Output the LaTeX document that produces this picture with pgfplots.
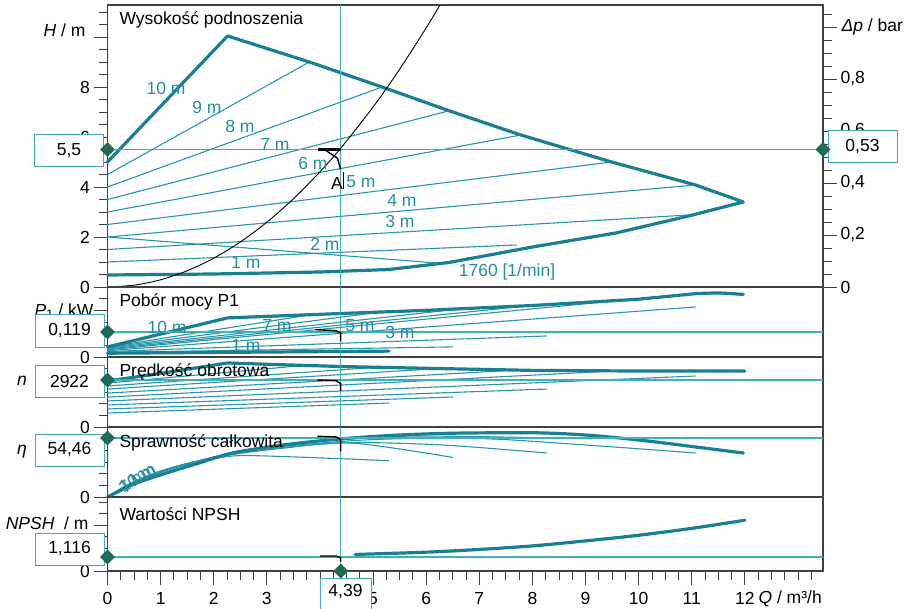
\documentclass[border=0pt]{standalone}
\usepackage{pgfplots}
\pgfplotsset{compat=1.18}
\usepackage{fontspec}
\setmainfont{Liberation Sans}
\definecolor{tkT}{RGB}{24,128,146}
\definecolor{tnT}{RGB}{38,150,168}
\definecolor{txT}{RGB}{36,142,158}
\definecolor{opc}{RGB}{64,176,186}
\definecolor{boxc}{RGB}{72,170,180}
\definecolor{dgr}{RGB}{30,108,84}
\definecolor{frc}{RGB}{65,65,65}
\newcommand{\fs}{\fontsize{17.5}{20}\selectfont}
\begin{document}
\begin{tikzpicture}[x=1pt,y=1pt]
\useasboundingbox (0,0) rectangle (904,-609);
\pgfplotsset{
 pane/.style={scale only axis, width=715.5pt, xmin=0, xmax=13.47, clip=false,
  anchor=south west, axis line style={draw=frc,line width=1.1pt},
  tick style={draw=frc,line width=0.9pt}, tick align=outside,
  major tick length=14pt, minor tick length=9pt, xtick=\empty,
  ticklabel style={font=\fs}, ytick pos=left},
 thk/.style={tkT, line width=3.2pt, line join=round, line cap=round},
 thn/.style={tnT, line width=1.1pt},
 opl/.style={opc, line width=1.1pt},
 dia/.style={only marks, mark=square*, mark size=5pt, mark options={rotate=45, fill=dgr, draw=dgr}},
 blk/.style={black, line width=2.4pt},
 blt/.style={black, line width=1.4pt},
}
\tikzset{vbox/.style={draw=boxc, line width=1pt, fill=white, minimum width=69pt, minimum height=32pt, inner sep=0pt, font=\fs},
 lab/.style={font=\fs, text=txT}, ttl/.style={font=\fs, anchor=west}}

% ---------------- H panel
\begin{axis}[pane, at={(107.5pt,-287pt)}, height=282pt, ymin=0, ymax=11.28,
 ytick={0,2,4,6,8,10}, yticklabels={0,2,4,6,8,{}}, minor ytick={0.5,1,...,11}]
\addplot[thn] coordinates {(0,4.5)(3.8,9.0)};
\addplot[thn] coordinates {(0,4.0)(5.17,8.0)};
\addplot[thn] coordinates {(0,3.5)(6.43,7.05)};
\addplot[thn] coordinates {(0,3.0)(7.78,6.08)};
\addplot[thn] coordinates {(0,2.5)(9.49,5.0)};
\addplot[thn] coordinates {(0,2.0)(11.07,4.08)};
\addplot[thn] coordinates {(0,1.5)(11.1,2.9)};
\addplot[thn] coordinates {(0,1.0)(7.7,1.68)};
\addplot[thn] coordinates {(0,2.0)(6.25,0.95)};
\addplot[thk] coordinates {(0,5.0)(2.26,10.04)(3.8,9.0)(5.17,8.0)(6.43,7.05)(7.78,6.08)(9.49,5.0)(11.07,4.08)(11.97,3.4)(10.94,2.84)(9.57,2.16)(8.0,1.6)(6.43,0.98)(5.3,0.7)(4,0.6)(2,0.52)(0,0.48)};
\addplot[black, line width=0.9pt, smooth] coordinates {(0,0)(0.5,0.072)(1,0.288)(1.5,0.648)(2,1.152)(2.5,1.8)(3,2.592)(3.5,3.528)(4,4.608)(4.39,5.55)(5,7.2)(5.5,8.712)(6,10.368)(6.26,11.28)};
\addplot[opl] coordinates {(-0.085,5.5)(13.57,5.5)};
\addplot[opl] coordinates {(4.39,0)(4.39,11.28)};
\addplot[blk] coordinates {(3.97,5.5)(4.39,5.5)};
\addplot[blt] coordinates {(4.12,5.45)(4.33,5.15)(4.39,4.7)};
\addplot[black, line width=0.8pt] coordinates {(4.45,4.6)(4.45,3.9)};
\end{axis}
% ---------------- Delta p axis
\begin{axis}[pane, at={(107.5pt,-287pt)}, height=282pt, ymin=0, ymax=1.0846,
 axis x line=none, axis y line*=right, ytick pos=right,
 ytick={0,0.2,0.4,0.6,0.8,1}, yticklabels={0,{0,2},{0,4},{0,6},{0,8},{}},
 minor ytick={0.05,0.1,...,1.05}, yticklabel style={anchor=west}]
\addplot[draw=none] coordinates {(0,0)(13.47,1)};
\end{axis}
% ---------------- P1 panel
\begin{axis}[pane, at={(107.5pt,-357pt)}, height=70pt, ymin=0, ymax=0.333,
 ytick={0,0.222}, yticklabels={0,{}}, minor ytick={0.0555,0.111,0.1665,0.2775,0.333}]
\addplot[thn] coordinates {(0,0.022)(6.5,0.048)};
\addplot[thn] coordinates {(0,0.026)(8.27,0.10)};
\addplot[thn] coordinates {(0,0.030)(11.07,0.238)};
\addplot[thn] coordinates {(0,0.034)(9.6,0.268)};
\addplot[thn] coordinates {(0,0.038)(7.9,0.243)};
\addplot[thn] coordinates {(0,0.042)(6.5,0.225)};
\addplot[thn] coordinates {(0,0.045)(5.2,0.216)};
\addplot[thn] coordinates {(0,0.047)(3.85,0.202)};
\addplot[thk] coordinates {(0,0.018)(5.3,0.028)};
\addplot[thk] coordinates {(0,0.048)(2.26,0.186)(4.4,0.207)(6,0.222)(8,0.245)(10,0.275)(11.1,0.302)(11.5,0.305)(11.97,0.298)};
\addplot[opl] coordinates {(-0.085,0.119)(13.47,0.119)};
\addplot[opl] coordinates {(4.39,0)(4.39,0.333)};
\addplot[blt] coordinates {(3.92,0.13)(4.3,0.125)(4.39,0.115)(4.39,0.075)};
\end{axis}
% ---------------- n panel
\begin{axis}[pane, at={(107.5pt,-427pt)}, height=70pt, ymin=0, ymax=4352,
 ytick={0}, yticklabels={0}, minor ytick={725,1451,2176,2901,3627,4352}]
\addplot[thn] coordinates {(0,870)(5.3,1490)};
\addplot[thn] coordinates {(0,1120)(6.5,1865)};
\addplot[thn] coordinates {(0,1370)(8.27,2360)};
\addplot[thn] coordinates {(0,1620)(11.07,3170)};
\addplot[thn] coordinates {(0,1860)(9.5,3480)};
\addplot[thn] coordinates {(0,2110)(7.8,3560)};
\addplot[thn] coordinates {(0,2360)(6.4,3670)};
\addplot[thn] coordinates {(0,2550)(5.2,3740)};
\addplot[thn] coordinates {(0,2730)(3.8,3860)};
\addplot[thk] coordinates {(0,2860)(1,3330)(2.26,3980)(3,3900)(4.4,3760)(6,3650)(8,3520)(10,3480)(12,3480)};
\addplot[opl] coordinates {(-0.085,2922)(13.47,2922)};
\addplot[opl] coordinates {(4.39,0)(4.39,4352)};
\addplot[blt] coordinates {(3.95,2922)(4.3,2880)(4.39,2700)(4.39,2250)};
\end{axis}
% ---------------- eta panel
\begin{axis}[pane, at={(107.5pt,-497pt)}, height=70pt, ymin=0, ymax=64.6,
 ytick={0}, yticklabels={0}, minor ytick={10.77,21.53,32.3,43.07,53.83,64.6}]
\addplot[thn, smooth] coordinates {(0,0)(0.4,12)(1,24)(1.7,32)(2.4,38)(3.5,37)(5.3,33.5)};
\addplot[thn, smooth] coordinates {(0,0)(0.5,14)(1.2,27)(2.2,38)(3.3,45)(4.6,49.8)(6.5,36.5)};
\addplot[thn, smooth] coordinates {(0,0)(0.6,16)(1.5,31)(2.8,43)(4.5,50)(6.3,48)(8.27,40.6)};
\addplot[thn, smooth] coordinates {(0,0)(0.7,18)(1.8,34)(3.2,46)(5,53)(7,54)(9,48)(11.07,40.6)};
\addplot[thn, smooth] coordinates {(0,0)(0.8,19)(2,37)(3.5,49)(5.5,56)(7.8,55)};
\addplot[thn, smooth] coordinates {(0,0)(1,23)(2.2,39)(3.6,50)(5.2,56)};
\addplot[thk, smooth] coordinates {(0,0)(0.5,12)(1.1,22)(1.7,31)(2.35,40.6)(3.3,48)(4.36,53.5)(5.4,57)(6.43,58.8)(7.5,59.3)(8.3,59)(9.2,56.5)(10.2,51.5)(11.1,46)(11.97,40.6)};
\addplot[opl] coordinates {(-0.085,54.46)(13.47,54.46)};
\addplot[opl] coordinates {(4.39,0)(4.39,64.6)};
\addplot[blt] coordinates {(3.95,56)(4.3,55.5)(4.39,53)(4.39,42)};
\end{axis}
% ---------------- NPSH panel
\begin{axis}[pane, at={(107.5pt,-571pt)}, height=74pt, ymin=0, ymax=5.9,
 ytick={0,3.665}, yticklabels={0,{}}, minor ytick={0.916,1.83,2.75,4.58,5.5},
 xtick={0,1,...,12}, xticklabels={0,1,2,3,{},5,6,7,8,9,10,11,12},
 minor xtick={0.25,0.5,...,13.25}, xtick pos=bottom,
 xticklabel style={yshift=-4pt}]
\addplot[thk, smooth] coordinates {(4.66,1.32)(6,1.5)(7,1.72)(8,2.0)(9,2.4)(10,2.85)(11,3.4)(12,4.05)};
\addplot[opl] coordinates {(-0.085,1.116)(13.47,1.116)};
\addplot[opl] coordinates {(4.39,-0.6)(4.39,5.9)};
\addplot[blt] coordinates {(4.0,1.2)(4.3,1.2)(4.39,1.05)(4.39,0.75)};
\end{axis}

% ---------------- texts
\node[ttl] at (116,-20) {Wysokość podnoszenia};
\node[ttl] at (116,-302) {Pobór mocy P1};
\node[ttl] at (116,-372) {Prędkość obrotowa};
\node[ttl] at (116,-443) {Sprawność całkowita};
\node[ttl] at (116,-514) {Wartości NPSH};

\node[lab] at (166,-88) {10 m};
\node[lab] at (207,-107) {9 m};
\node[lab] at (240,-126) {8 m};
\node[lab] at (275,-144) {7 m};
\node[lab] at (313,-163) {6 m};
\node[lab] at (361,-182) {5 m};
\node[lab] at (402,-200) {4 m};
\node[lab] at (400,-221) {3 m};
\node[lab] at (325,-244) {2 m};
\node[lab] at (246,-262) {1 m};
\node[lab] at (507,-272) {1760 [1/min]};
\node[font=\fs] at (337,-183) {A};

\node[lab] at (167,-327) {10 m};
\node[lab] at (277,-325) {7 m};
\node[lab] at (360,-326) {5 m};
\node[lab] at (400,-332) {3 m};
\node[lab] at (246,-345) {1 m};
\node[lab, rotate=32] at (137,-478) {10 m};
\node[lab, rotate=38] at (133,-481) {7 m};
\node[lab, rotate=28] at (142,-475) {1 m};

\node[font=\fs, anchor=east] at (89,-30) {\textit{H} / m};
\node[font=\fs, anchor=west] at (838,-27) {\textit{Δp} / bar};
\node[font=\fs, anchor=east] at (97,-311) {\textit{P}\textsubscript{1} / kW};
\node[font=\fs] at (22,-381) {\textit{n}};
\node[font=\fs] at (22,-452) {\textit{η}};
\node[font=\fs, anchor=east] at (92,-523) {\textit{NPSH}\ \ / m};
\node[font=\fs, anchor=west] at (755,-599) {\textit{Q} / m³/h};

% ---------------- value boxes
\node[vbox] at (69,-151) {5,5};
\node[vbox] at (862.5,-146.5) {0,53};
\node[vbox] at (69.5,-331) {0,119};
\node[vbox] at (69.5,-381) {2922};
\node[vbox] at (69.5,-450) {54,46};
\node[vbox] at (69.5,-549) {1,116};
\node[vbox, minimum width=51pt, minimum height=44pt] at (345.5,-600) {};
\node[font=\fs] at (345.5,-592) {4,39};

% ---------------- operating point markers (overlay)
\begin{axis}[pane, hide axis, at={(107.5pt,-287pt)}, height=282pt, ymin=0, ymax=11.28]
\addplot[dia] coordinates {(0,5.5)(13.47,5.5)};
\end{axis}
\begin{axis}[pane, hide axis, at={(107.5pt,-357pt)}, height=70pt, ymin=0, ymax=0.333]
\addplot[dia] coordinates {(0,0.119)};
\end{axis}
\begin{axis}[pane, hide axis, at={(107.5pt,-427pt)}, height=70pt, ymin=0, ymax=4352]
\addplot[dia] coordinates {(0,2922)};
\end{axis}
\begin{axis}[pane, hide axis, at={(107.5pt,-497pt)}, height=70pt, ymin=0, ymax=64.6]
\addplot[dia] coordinates {(0,54.46)};
\end{axis}
\begin{axis}[pane, hide axis, at={(107.5pt,-571pt)}, height=74pt, ymin=0, ymax=5.9]
\addplot[dia] coordinates {(0,1.116)(4.39,0)};
\end{axis}
\end{tikzpicture}
\end{document}
